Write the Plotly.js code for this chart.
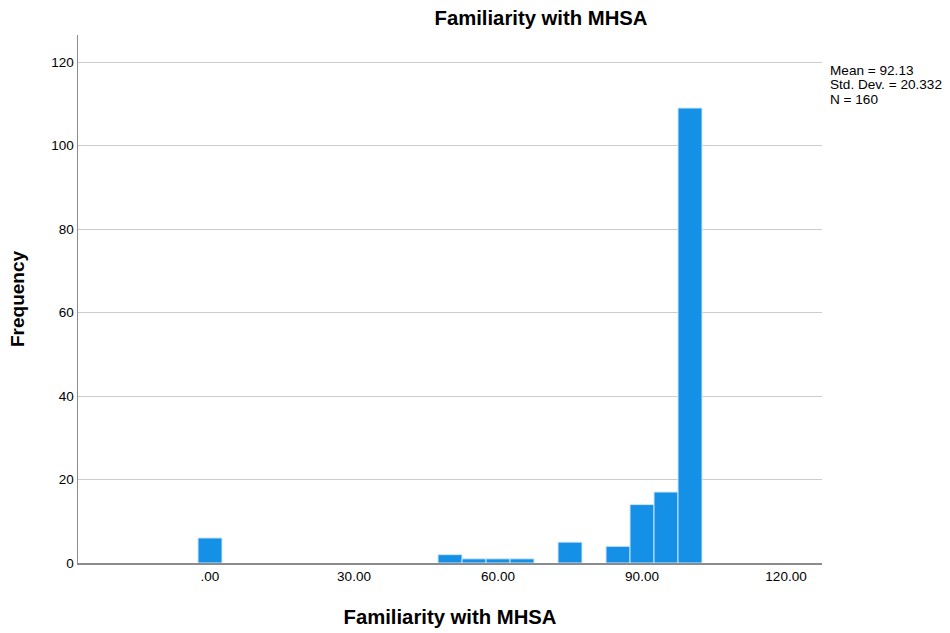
<!DOCTYPE html>
<html>
<head>
<meta charset="utf-8">
<script src="https://cdn.plot.ly/plotly-3.0.1.min.js"></script>
<style>html,body{margin:0;padding:0;background:#fff}#chart{width:950px;height:633px}</style>
</head>
<body>
<div id="chart"></div>
<script>
const binCenters = [0, 50, 55, 60, 65, 75, 85, 90, 95, 100];
const frequencies = [6, 2, 1, 1, 1, 5, 4, 14, 17, 109];
const binWidth = 5;
const xTickValues = [0, 30, 60, 90, 120];
const xTickLabels = [".00", "30.00", "60.00", "90.00", "120.00"];
const yTickValues = [0, 20, 40, 60, 80, 100, 120];
const statsLines = ["Mean = 92.13", "Std. Dev. = 20.332", "N = 160"];

const font = "Liberation Sans, Arial, sans-serif";

const trace = {
  type: "bar",
  x: binCenters,
  y: frequencies,
  width: binCenters.map(() => binWidth),
  marker: { color: "#1490e6", line: { color: "#cfe6fa", width: 1 } },
  hoverinfo: "x+y"
};

const annotations = statsLines.map((t, i) => ({
  xref: "paper", yref: "paper",
  x: 1.008, y: 1 - (35 + i * 14.5 - 35) / 528 - 35 / 528,
  xanchor: "left", yanchor: "middle",
  text: t, showarrow: false,
  font: { family: font, size: 13.6, color: "#000" }
}));

const layout = {
  width: 950, height: 633,
  margin: { l: 78, r: 128, t: 35, b: 70 },
  paper_bgcolor: "#fff", plot_bgcolor: "#fff",
  showlegend: false,
  bargap: 0,
  title: {
    text: "<b>Familiarity with MHSA</b>",
    font: { family: font, size: 20.3, color: "#000" },
    x: 541 / 950, xanchor: "center", xref: "container",
    y: 1 - 18 / 633, yanchor: "middle", yref: "container"
  },
  xaxis: {
    range: [-27.5, 127.5],
    tickvals: xTickValues, ticktext: xTickLabels,
    showgrid: false, zeroline: false,
    showline: true, linecolor: "#8c8c8c", linewidth: 1.5,
    ticks: "", ticklen: 0,
    tickfont: { family: font, size: 13.5, color: "#000" },
    title: { text: "<b>Familiarity with MHSA</b>", font: { family: font, size: 20.3, color: "#000" }, standoff: 27 },
    fixedrange: true
  },
  yaxis: {
    range: [0, 126.5],
    tickvals: yTickValues,
    showgrid: true, gridcolor: "#cccccc", gridwidth: 1,
    zeroline: false,
    showline: true, linecolor: "#8c8c8c", linewidth: 1.5,
    ticks: "", ticklen: 0,
    tickfont: { family: font, size: 13.5, color: "#000" },
    title: { text: "<b>Frequency</b>", font: { family: font, size: 19, color: "#000" }, standoff: 21 },
    fixedrange: true
  },
  annotations: annotations
};

Plotly.newPlot("chart", [trace], layout, { displayModeBar: false, staticPlot: true });
</script>
</body>
</html>
